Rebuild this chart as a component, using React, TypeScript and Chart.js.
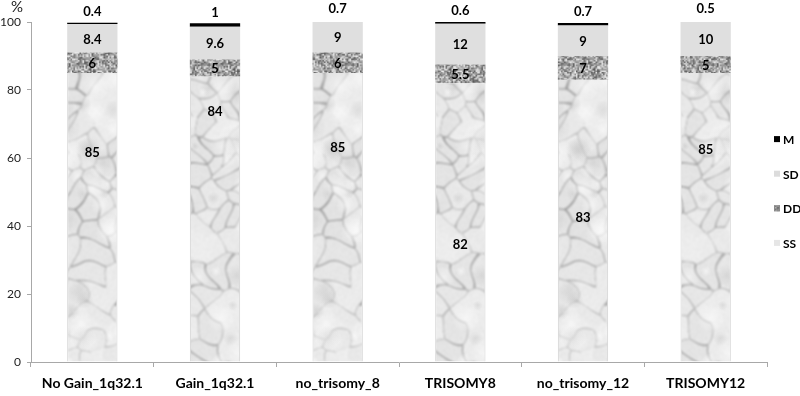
import React, { useEffect, useRef } from "react";
import { Chart, registerables } from "chart.js";

Chart.register(...registerables);

const categories = ["No Gain_1q32.1", "Gain_1q32.1", "no_trisomy_8", "TRISOMY8", "no_trisomy_12", "TRISOMY12"];
const seriesNames = ["SS", "DD", "SD", "M"];
const ssValues = [85, 84, 85, 82, 83, 85];
const ddValues = [6, 5, 6, 5.5, 7, 5];
const sdValues = [8.4, 9.6, 9, 12, 9, 10];
const mValues = [0.4, 1, 0.7, 0.6, 0.7, 0.5];
const yTicks = [0, 20, 40, 60, 80, 100];
// where the SS labels sit in the reference (axis units)
const ssLabelAt = [61.5, 73.5, 63, 34.4, 42.4, 62.4];

const FONT = "Lato, 'Open Sans', sans-serif";

function mulberry32(a: number) {
  return function () {
    a |= 0;
    a = (a + 0x6d2b79f5) | 0;
    let t = Math.imul(a ^ (a >>> 15), 1 | a);
    t = (t + Math.imul(t ^ (t >>> 7), 61 | t)) ^ t;
    return ((t ^ (t >>> 14)) >>> 0) / 4294967296;
  };
}

function makeMarble(): CanvasPattern | string {
  const w = 245, h = 420;
  const raw = document.createElement("canvas");
  raw.width = w; raw.height = h;
  const rg = raw.getContext("2d");
  if (!rg) return "#e8e8e8";
  const rnd = mulberry32(31);
  const pts: { x: number; y: number; s: number }[] = [];
  let tries = 0;
  while (pts.length < 230 && tries < 20000) {
    tries++;
    const p = { x: rnd() * w, y: rnd() * h, s: rnd() };
    let ok = true;
    for (const q of pts) {
      const dx = p.x - q.x, dy = p.y - q.y;
      if (dx * dx + dy * dy < 100) { ok = false; break; }
    }
    if (ok) pts.push(p);
  }
  const ph = [rnd() * 6, rnd() * 6, rnd() * 6, rnd() * 6];
  const img = rg.createImageData(w, h);
  for (let y = 0; y < h; y++) {
    for (let x = 0; x < w; x++) {
      const wx = x + 3.5 * Math.sin(y / 7 + ph[0]) + 2.5 * Math.sin((x + y) / 11 + ph[1]);
      const wy = y + 3.5 * Math.sin(x / 8 + ph[2]) + 2.5 * Math.sin((x - y) / 10 + ph[3]);
      let d1 = 1e9, d2 = 1e9, i1 = 0, i2 = 0;
      for (let k = 0; k < pts.length; k++) {
        let dx = Math.abs(wx - pts[k].x); if (dx > w / 2) dx = w - dx;
        let dy = Math.abs(wy - pts[k].y); if (dy > h / 2) dy = h - dy;
        const d = dx * dx + dy * dy;
        if (d < d1) { d2 = d1; i2 = i1; d1 = d; i1 = k; }
        else if (d < d2) { d2 = d; i2 = k; }
      }
      const e = Math.sqrt(d2) - Math.sqrt(d1);
      const strength = (pts[i1].s + pts[i2].s) / 2;
      let v = 238 - pts[i1].s * 12;
      if (strength > 0.3) {
        const dark = Math.max(0, 1 - e / (0.9 + strength * 1.4)) * (30 + strength * 60);
        v -= dark;
      }
      v += (rnd() - 0.5) * 12;
      const o = (y * w + x) * 4;
      img.data[o] = v; img.data[o + 1] = v; img.data[o + 2] = v; img.data[o + 3] = 255;
    }
  }
  rg.putImageData(img, 0, 0);
  const c = document.createElement("canvas");
  c.width = w; c.height = h;
  const g = c.getContext("2d");
  if (!g) return "#e8e8e8";
  g.filter = "blur(1.1px)";
  g.drawImage(raw, 0, 0);
  g.filter = "none";
  for (let i = 0; i < 200; i++) {
    const x = rnd() * w, y = rnd() * h, r = 4 + rnd() * 12;
    const grd = g.createRadialGradient(x, y, 0, x, y, r);
    const light = rnd() < 0.55;
    grd.addColorStop(0, light ? "rgba(255,255,255,0.5)" : "rgba(150,150,150,0.2)");
    grd.addColorStop(1, light ? "rgba(255,255,255,0)" : "rgba(150,150,150,0)");
    g.fillStyle = grd;
    g.fillRect(x - r, y - r, 2 * r, 2 * r);
  }
  return g.createPattern(c, "repeat") || "#e8e8e8";
}

function makeGranite(): CanvasPattern | string {
  const s = 48;
  const small = document.createElement("canvas");
  small.width = s; small.height = s;
  const sg = small.getContext("2d");
  if (!sg) return "#999";
  const rnd = mulberry32(5);
  const img = sg.createImageData(s, s);
  for (let i = 0; i < s * s; i++) {
    const r = rnd();
    const v = r < 0.28 ? 85 + rnd() * 50 : r < 0.62 ? 190 + rnd() * 50 : 140 + rnd() * 40;
    img.data[i * 4] = v;
    img.data[i * 4 + 1] = v;
    img.data[i * 4 + 2] = v;
    img.data[i * 4 + 3] = 255;
  }
  sg.putImageData(img, 0, 0);
  const c = document.createElement("canvas");
  c.width = 72; c.height = 72;
  const g = c.getContext("2d");
  if (!g) return "#999";
  g.fillStyle = "#a4a4a4";
  g.fillRect(0, 0, 72, 72);
  g.filter = "blur(0.4px)";
  g.imageSmoothingEnabled = true;
  g.drawImage(small, 0, 0, 72, 72);
  g.filter = "none";
  return g.createPattern(c, "repeat") || "#999";
}

export default function App() {
  const ref = useRef<HTMLCanvasElement | null>(null);

  useEffect(() => {
    if (!ref.current) return;
    const marble = makeMarble();
    const granite = makeGranite();
    const fills = [marble, granite, "#dfdfdf", "#000000"];
    const legendFills = ["#e6e6e6", granite, "#dcdcdc", "#000000"];
    const values = [ssValues, ddValues, sdValues, mValues];

    const overlay = {
      id: "overlay",
      afterDatasetsDraw(chart: any) {
        const ctx = chart.ctx;
        const ys = chart.scales.y;
        const area = chart.chartArea;
        ctx.save();
        ctx.fillStyle = "#000";
        ctx.textAlign = "center";
        ctx.textBaseline = "middle";
        ctx.font = `bold 13px ${FONT}`;
        chart.data.datasets.forEach((ds: any, di: number) => {
          const meta = chart.getDatasetMeta(di);
          meta.data.forEach((bar: any, i: number) => {
            const p = bar.getProps(["x", "y", "base"], true);
            let ty: number;
            if (di === 3) ty = p.y - 11;
            else if (di === 0) ty = ys.getPixelForValue(ssLabelAt[i]);
            else ty = (p.y + p.base) / 2 + 1;
            ctx.fillText(String(ds.data[i]), p.x, ty);
          });
        });
        // y unit
        ctx.font = `15px ${FONT}`;
        ctx.fillStyle = "#222";
        ctx.fillText("%", 17, 7);
        // legend (reversed order)
        const n = seriesNames.length;
        const spacing = 34.6;
        const cy = (area.top + area.bottom) / 2 - 1;
        ctx.font = `bold 12px ${FONT}`;
        ctx.textAlign = "left";
        for (let k = 0; k < n; k++) {
          const di = n - 1 - k;
          const y = cy + (k - (n - 1) / 2) * spacing;
          const bx = area.right + 7;
          ctx.fillStyle = legendFills[di];
          ctx.fillRect(bx, y - 3, 6, 6);
          if (di === 1) {
            ctx.strokeStyle = "#888";
            ctx.lineWidth = 1;
            ctx.strokeRect(bx + 0.5, y - 2.5, 5, 5);
          }
          ctx.fillStyle = "#000";
          ctx.fillText(seriesNames[di], bx + 9, y + 1);
        }
        ctx.restore();
      },
    };

    const chart = new Chart(ref.current, {
      type: "bar",
      data: {
        labels: categories,
        datasets: seriesNames.map((name, di) => ({
          label: name,
          data: values[di],
          backgroundColor: fills[di] as any,
          borderColor: di === 0 ? "#d4d4d4" : "rgba(0,0,0,0)",
          borderWidth: di === 0 ? { left: 1, right: 1, top: 0, bottom: 0 } : 0,
          borderSkipped: false,
          barPercentage: 0.41,
          categoryPercentage: 1,
        })),
      },
      options: {
        animation: false,
        responsive: false,
        maintainAspectRatio: false,
        layout: { padding: { left: 0, top: 22, right: 33, bottom: 0 } },
        plugins: {
          legend: { display: false },
          tooltip: { enabled: false },
        },
        scales: {
          x: {
            stacked: true,
            afterFit(scale: any) {
              scale.height = 34;
            },
            grid: {
              display: true,
              drawOnChartArea: false,
              drawTicks: true,
              tickLength: 5,
              color: "#a8a8a8",
              offset: true,
            },
            border: { display: true, color: "#a8a8a8" },
            ticks: {
              color: "#000",
              padding: 8,
              font: { family: FONT, size: 14, weight: "bold" },
            },
          },
          y: {
            stacked: true,
            min: 0,
            max: 100,
            afterBuildTicks(scale: any) {
              scale.ticks = yTicks.map((v) => ({ value: v }));
            },
            afterFit(scale: any) {
              scale.width = 31;
            },
            grid: {
              display: true,
              drawOnChartArea: false,
              drawTicks: true,
              tickLength: 4,
              color: "#a8a8a8",
            },
            border: { display: true, color: "#a8a8a8" },
            ticks: {
              color: "#222",
              padding: 6,
              font: { family: FONT, size: 12 },
            },
          },
        },
      },
      plugins: [overlay],
    });
    return () => chart.destroy();
  }, []);

  return (
    <div style={{ position: "absolute", left: 0, top: 0, width: 800, height: 396, background: "#fff" }}>
      <canvas ref={ref} width={800} height={396} style={{ width: 800, height: 396, display: "block" }} />
    </div>
  );
}
